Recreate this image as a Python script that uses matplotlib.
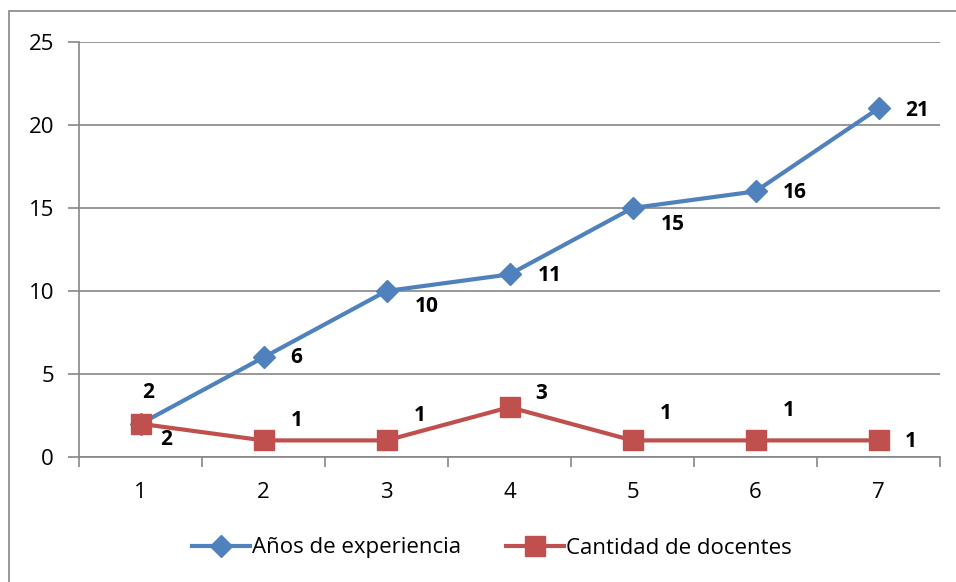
import matplotlib.pyplot as plt
from matplotlib.lines import Line2D
from matplotlib.patches import Rectangle

plt.rcParams['font.family'] = ['Open Sans', 'DejaVu Sans']

categorias = [1, 2, 3, 4, 5, 6, 7]
anios = [2, 6, 10, 11, 15, 16, 21]
docentes = [2, 1, 1, 3, 1, 1, 1]

# desplazamiento de las etiquetas (px) como en Excel
off_anios = [(8, 31), (33, 0), (40, -16), (40, -1), (40, -17), (39, -1), (39, -2)]
off_doc = [(26, -16), (33, 20), (33, 25), (32, 14), (33, 27), (33, 30), (32, -1)]

azul = '#4F81BD'
rojo = '#C0504D'
gris = '#868686'

fig = plt.figure(figsize=(9.56, 5.82), dpi=100)
ax = fig.add_axes([79/956, 1-457/582, (940-79)/956, (457-42)/582])

fig.patches.append(Rectangle((9/956, -0.1), 1.2, 1.1-11/582, transform=fig.transFigure,
                             fill=False, edgecolor=gris, lw=1.2, clip_on=False))

ax.plot(categorias, anios, color=azul, lw=3, marker='D', ms=11, zorder=3)
ax.plot(categorias, docentes, color=rojo, lw=3, marker='s', ms=14, zorder=3)

for x, y, o in zip(categorias, anios, off_anios):
    ax.annotate(str(y), (x, y), xytext=o, textcoords='offset pixels',
                ha='center', va='center', fontsize=15, fontweight='bold')
for x, y, o in zip(categorias, docentes, off_doc):
    ax.annotate(str(y), (x, y), xytext=o, textcoords='offset pixels',
                ha='center', va='center', fontsize=15, fontweight='bold')

ax.set_xlim(0.5, 7.5)
ax.set_ylim(0, 25)
ax.set_yticks([0, 5, 10, 15, 20, 25])
ax.set_xticks(categorias)
ax.set_xticks([i + 0.5 for i in range(0, 8)], minor=True)
ax.tick_params(axis='x', which='major', length=0, pad=18, labelsize=16)
ax.tick_params(axis='x', which='minor', length=7, color=gris, width=1.2)
ax.tick_params(axis='y', length=8, color=gris, width=1.2, pad=10, labelsize=16)
ax.grid(axis='y', color=gris, lw=1.2)
ax.set_axisbelow(True)
for s in ['top', 'right']:
    ax.spines[s].set_visible(False)
for s in ['left', 'bottom']:
    ax.spines[s].set_color(gris)
    ax.spines[s].set_linewidth(1.2)

handles = [Line2D([], [], color=azul, lw=3, marker='D', ms=11),
           Line2D([], [], color=rojo, lw=3, marker='s', ms=14)]
fig.legend(handles, ['Años de experiencia', 'Cantidad de docentes'],
           loc='center', bbox_to_anchor=(492/956, 1-548/582), ncol=2,
           frameon=False, fontsize=16, handlelength=2.6, handletextpad=0.1,
           columnspacing=2.0)

fig.savefig('out.png', dpi=100)
